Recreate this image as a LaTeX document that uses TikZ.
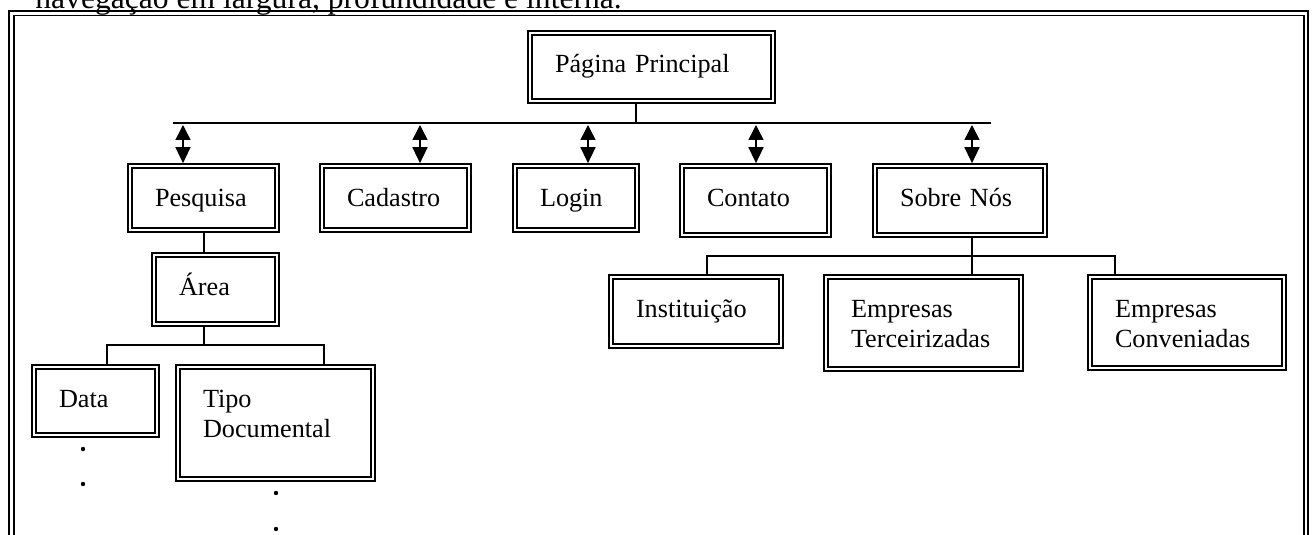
\documentclass[tikz,border=0pt]{standalone}
\usepackage{fontspec}
\setmainfont{Liberation Serif}
\usetikzlibrary{arrows.meta}

% text size used inside the navigation boxes
\newcommand\navboxfont{\fontsize{13.1pt}{15pt}\selectfont}

% \navbox[options]{name}{left}{top}{right}{bottom}{text}
% a double-ruled box; its text starts at a fixed inset from the top-left corner
\newcommand\navbox[7][]{%
  \pgfmathsetmacro\nbW{(#5-#3)*0.5}%
  \pgfmathsetmacro\nbH{(#6-#4)*0.5}%
  \pgfmathsetmacro\nbTW{\nbW-27}%
  \pgfmathsetmacro\nbTD{\nbH-21}%
  \node[navbox, minimum width=\nbW pt, minimum height=\nbH pt,
        text width=\nbTW pt, text height=21pt, text depth=\nbTD pt, #1]
        (#2) at ({(#3+#5)/2},{(#4+#6)/2}) {#7};
  \draw[navinner] ([shift={(2.25pt,-2.25pt)}]#2.north west)
        rectangle ([shift={(-2.25pt,2.25pt)}]#2.south east);
}

\begin{document}
\begin{tikzpicture}[x=0.5pt,y=-0.5pt,
  navbox/.style={rectangle, draw, line width=0.85pt, inner sep=0pt,
                 align=left, font=\navboxfont},
  navinner/.style={line width=1.1pt},
  link/.style={line width=0.7pt},
  updown/.style={line width=0.75pt,
                 {Triangle[length=7.5pt,width=7.5pt]}-{Triangle[length=8pt,width=7.5pt]}},
  frameouter/.style={line width=1pt},
  frameinner/.style={line width=0.55pt},
  caption/.style={font=\fontsize{15.8pt}{18pt}\selectfont, anchor=base west, inner sep=0pt}]
\useasboundingbox (0,0) rectangle (1312,535);
\clip (0,0) rectangle (1312,535);

% caption line running into the top edge
\node[caption] (cap) at (35,9) {navegação em largura, profundidade e interna.};

% surrounding double frame (open towards the bottom)
\draw[frameouter] (9,560) -- (9,11) -- (1308,11) -- (1308,560);
\draw[frameinner] (14,560) -- (14,15.5) -- (1304,15.5) -- (1304,560);

% boxes
\navbox{pp}{528}{31}{775}{103}{Página Principal}
\navbox{pesq}{128}{164}{279}{232}{Pesquisa}
\navbox{cad}{320}{164}{471}{232}{Cadastro}
\navbox{login}{513}{164}{639}{232}{Login}
\navbox{cont}{680}{164}{831}{237}{Contato}
\navbox{sobre}{873}{164}{1047}{237}{Sobre Nós}
\navbox{area}{152}{253}{279}{326}{Área}
\navbox{data}{32}{365}{159}{437}{Data}
\navbox{tipo}{176}{365}{375}{481}{Tipo\\Documental}
\navbox{inst}{609}{275}{783}{348}{Instituição}
\navbox{terc}{824}{275}{1023}{371}{Empresas\\Terceirizadas}
\navbox{conv}{1088}{275}{1286}{370}{Empresas\\Conveniadas}

% main bus under the home page
\coordinate (busL) at (173,123);
\coordinate (busR) at (991,123);
\coordinate (busTop) at (636,123);
\draw[link] (pp.south -| busTop) -- (busTop);
\draw[link] (busL) -- (busR);

% two-way links from the bus to the first level
\coordinate (tPesq) at (183,125);
\coordinate (tCad) at (420,125);
\coordinate (tLogin) at (588,125);
\coordinate (tCont) at (756,125);
\coordinate (tSobre) at (972,125);
\draw[updown] (tPesq) -- (tPesq |- pesq.north);
\draw[updown] (tCad) -- (tCad |- cad.north);
\draw[updown] (tLogin) -- (tLogin |- login.north);
\draw[updown] (tCont) -- (tCont |- cont.north);
\draw[updown] (tSobre) -- (tSobre |- sobre.north);

% Pesquisa branch
\coordinate (pa) at (204,253);
\draw[link] (pesq.south -| pa) -- (pa |- area.north);
\coordinate (aj) at (204,345);
\coordinate (ajL) at (107,345);
\coordinate (ajR) at (324,345);
\draw[link] (area.south -| aj) -- (aj);
\draw[link] (data.north -| ajL) -- (ajL) -- (ajR) -- (ajR |- tipo.north);

% continuation marks
\fill (83,449) circle (1.1pt);
\fill (83,484) circle (1.1pt);
\fill (276,493) circle (1.1pt);
\fill (276,529) circle (1.1pt);

% Sobre Nós branch
\coordinate (sj) at (972,256);
\coordinate (sjL) at (707,256);
\coordinate (sjR) at (1115,256);
\draw[link] (sobre.south -| sj) -- (sj |- terc.north);
\draw[link] (inst.north -| sjL) -- (sjL) -- (sjR) -- (sjR |- conv.north);
\end{tikzpicture}
\end{document}
